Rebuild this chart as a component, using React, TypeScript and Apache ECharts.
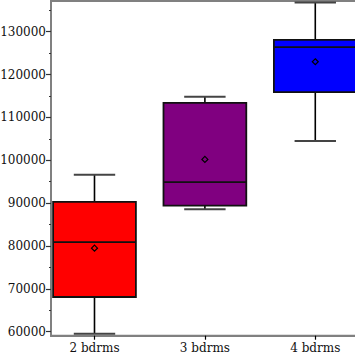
import React, { useEffect, useRef } from "react";
import * as echarts from "echarts";

const categories = ["2 bdrms", "3 bdrms", "4 bdrms"];
const lowerWhisker = [59500, 88600, 104500];
const q1 = [68100, 89400, 115900];
const median = [80900, 94900, 126400];
const q3 = [90300, 113400, 128100];
const upperWhisker = [96600, 114800, 136800];
const means = [79500, 100200, 123000];
const boxColors = ["#ff0000", "#800080", "#0000ff"];

const majorTicks = [60000, 70000, 80000, 90000, 100000, 110000, 120000, 130000];
const minorTicks = [65000, 75000, 85000, 95000, 105000, 115000, 125000, 135000];

const FONT = "DejaVu Serif";

export default function App() {
  const ref = useRef<HTMLDivElement>(null);
  useEffect(() => {
    if (!ref.current) return;
    const chart = echarts.init(ref.current, null, { renderer: "svg" });
    const data = categories.map((c, i) => [
      i + 1,
      lowerWhisker[i],
      q1[i],
      median[i],
      q3[i],
      upperWhisker[i],
      means[i],
    ]);
    const renderItem = (params: any, api: any) => {
      const x = api.value(0);
      const idx = params.dataIndex;
      const band = api.size([1, 0])[0];
      const bw = band * 0.75;
      const cw = bw / 2;
      const pLo = api.coord([x, api.value(1)]);
      const pQ1 = api.coord([x, api.value(2)]);
      const pMed = api.coord([x, api.value(3)]);
      const pQ3 = api.coord([x, api.value(4)]);
      const pHi = api.coord([x, api.value(5)]);
      const pMean = api.coord([x, api.value(6)]);
      const cx = pQ1[0];
      const d = 3;
      return {
        type: "group",
        children: [
          {
            type: "line",
            shape: { x1: cx, y1: pHi[1], x2: cx, y2: pQ3[1] },
            style: { stroke: "#000", lineWidth: 1.6 },
          },
          {
            type: "line",
            shape: { x1: cx, y1: pQ1[1], x2: cx, y2: pLo[1] },
            style: { stroke: "#000", lineWidth: 1.6 },
          },
          {
            type: "line",
            shape: { x1: cx - cw / 2, y1: pHi[1], x2: cx + cw / 2, y2: pHi[1] },
            style: { stroke: "#444", lineWidth: 2 },
          },
          {
            type: "line",
            shape: { x1: cx - cw / 2, y1: pLo[1], x2: cx + cw / 2, y2: pLo[1] },
            style: { stroke: "#444", lineWidth: 2 },
          },
          {
            type: "rect",
            shape: { x: cx - bw / 2, y: pQ3[1], width: bw, height: pQ1[1] - pQ3[1] },
            style: { fill: boxColors[idx], stroke: "#111", lineWidth: 1.8 },
          },
          {
            type: "line",
            shape: { x1: cx - bw / 2, y1: pMed[1], x2: cx + bw / 2, y2: pMed[1] },
            style: { stroke: "#111", lineWidth: 1.8 },
          },
          {
            type: "polygon",
            shape: {
              points: [
                [cx, pMean[1] - d],
                [cx + d, pMean[1]],
                [cx, pMean[1] + d],
                [cx - d, pMean[1]],
              ],
            },
            style: { fill: boxColors[idx], stroke: "#000", lineWidth: 1.2 },
          },
        ],
      };
    };
    const yMin = 59070;
    const yMax = 137170;
    chart.setOption({
      animation: false,
      backgroundColor: "#fff",
      grid: {
        left: 51,
        top: 1,
        width: 308,
        height: 334.7,
        outerBoundsMode: "none",
        containLabel: false,
        show: true,
        borderColor: "#808080",
        borderWidth: 2,
        backgroundColor: "transparent",
      },
      xAxis: {
        type: "value",
        min: 0.606,
        max: 3.396,
        splitLine: { show: false },
        axisLine: { show: true, lineStyle: { color: "#808080", width: 2 } },
        axisTick: {
          show: true,
          customValues: categories.map((c, i) => i + 1),
          length: 4,
          lineStyle: { color: "#000", width: 1.2 },
        },
        axisLabel: {
          customValues: categories.map((c, i) => i + 1),
          formatter: (v: number) => categories[Math.round(v) - 1] ?? "",
          fontFamily: FONT,
          fontSize: 12,
          color: "#111",
          margin: 6,
        },
      },
      yAxis: [
        {
          type: "value",
          min: yMin,
          max: yMax,
          splitLine: { show: false },
          axisLine: { show: true, lineStyle: { color: "#808080", width: 2 } },
          axisTick: {
            show: true,
            customValues: majorTicks,
            length: 5,
            lineStyle: { color: "#333", width: 1.2 },
          },
          axisLabel: {
            customValues: majorTicks,
            formatter: (v: number) => String(Math.round(v)),
            fontFamily: FONT,
            fontSize: 12,
            color: "#111",
            margin: 5,
          },
        },
        {
          type: "value",
          position: "left",
          min: yMin,
          max: yMax,
          splitLine: { show: false },
          axisLine: { show: false },
          axisTick: {
            show: true,
            customValues: minorTicks,
            length: 2,
            lineStyle: { color: "#333", width: 1.2 },
          },
          axisLabel: { show: false },
        },
      ],
      series: [
        {
          type: "custom",
          renderItem,
          data,
          encode: { x: 0, y: [1, 2, 3, 4, 5, 6] },
          clip: true,
        },
      ],
    });
    return () => chart.dispose();
  }, []);
  return (
    <div
      ref={ref}
      style={{ position: "absolute", left: 0, top: 0, width: 355, height: 355 }}
    />
  );
}
